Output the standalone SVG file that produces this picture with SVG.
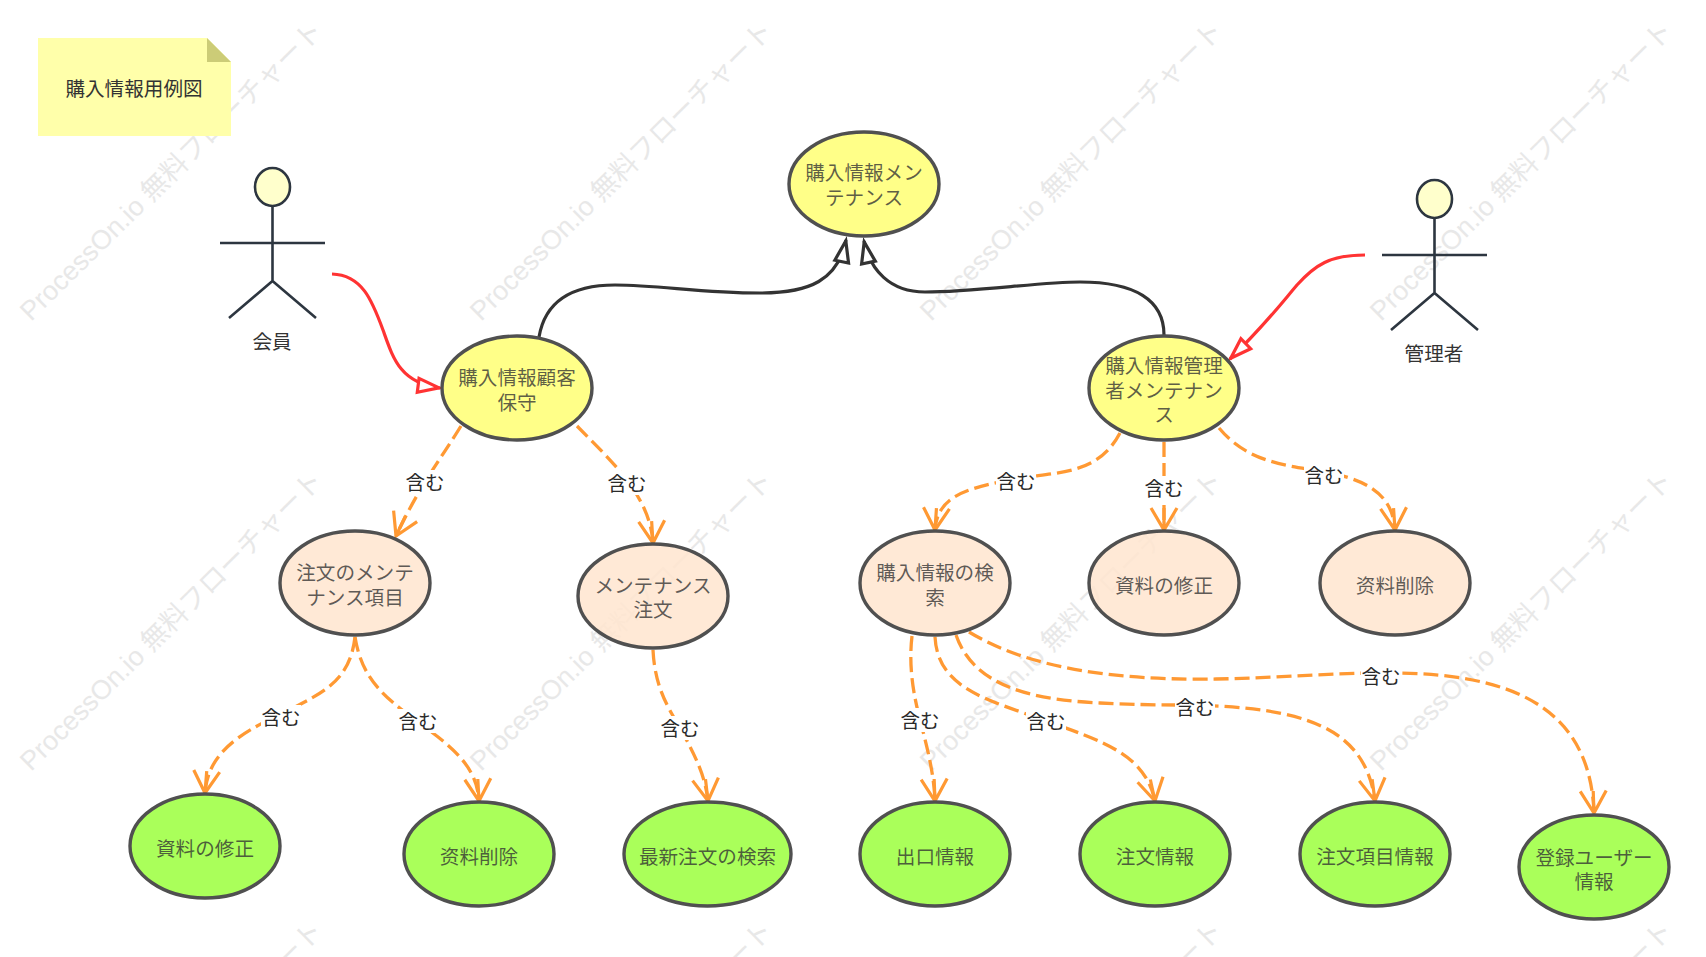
<svg xmlns="http://www.w3.org/2000/svg" width="1706" height="957" viewBox="0 0 1706 957">
<style>
text{font-family:"Noto Sans CJK JP","Liberation Sans",sans-serif;text-anchor:middle;dominant-baseline:central}
.wm{font-family:"Liberation Sans","Noto Sans CJK JP",sans-serif;font-size:27px;fill:#e8e8e8;text-anchor:start;dominant-baseline:auto}
.n{stroke:#505050;stroke-width:3.400}
.y{fill:#ffff88}.p{fill:#ffe5cf;fill-opacity:.85}.g{fill:#aaff5a}
.t{font-size:19.600px;fill:#333;fill-opacity:.78}
.a{font-size:19.600px;fill:#333}
.l{font-size:19.600px;fill:#2a2a2a}
.lb{fill:#fff}
.inc{fill:none;stroke:#ff9933;stroke-width:3.300;stroke-dasharray:15 6;marker-end:url(#open)}
.blk{fill:none;stroke:#333;stroke-width:3.200;marker-end:url(#triK)}
.red{fill:none;stroke:#ff3333;stroke-width:3.200;marker-end:url(#triR)}
.act{fill:none;stroke:#2d3640;stroke-width:2.600}
</style>
<defs>
<marker id="open" markerUnits="userSpaceOnUse" markerWidth="30" markerHeight="34" refX="25" refY="15" orient="auto" overflow="visible"><path d="M3,2 L25,15 L3,28 M25,15 L3,15" fill="none" stroke="#ff9933" stroke-width="3.200"/></marker>
<marker id="triK" markerUnits="userSpaceOnUse" markerWidth="30" markerHeight="24" refX="25" refY="10" orient="auto" overflow="visible"><path d="M3,3 L24,10 L3,17 Z" fill="#fff" stroke="#333" stroke-width="3.200"/></marker>
<marker id="triR" markerUnits="userSpaceOnUse" markerWidth="30" markerHeight="24" refX="25" refY="10" orient="auto" overflow="visible"><path d="M3,3 L24,10 L3,17 Z" fill="#fff" stroke="#ff3333" stroke-width="3.200"/></marker>
<text id="wm" class="wm" transform="rotate(-44.600)">ProcessOn.io 無料フローチャート</text>
</defs>
<g id="watermarks">
<use href="#wm" transform="translate(31,322)"/><use href="#wm" transform="translate(481,322)"/><use href="#wm" transform="translate(931,322)"/><use href="#wm" transform="translate(1381,322)"/>
<use href="#wm" transform="translate(31,772)"/><use href="#wm" transform="translate(481,772)"/><use href="#wm" transform="translate(931,772)"/><use href="#wm" transform="translate(1381,772)"/>
<use href="#wm" transform="translate(31,1222)"/><use href="#wm" transform="translate(481,1222)"/><use href="#wm" transform="translate(931,1222)"/><use href="#wm" transform="translate(1381,1222)"/>
</g>
<g id="note"><path d="M38,38 H207 L231,62 V136 H38 Z" fill="#ffffaa"/><path d="M207,38 L231,62 H207 Z" fill="#cccc77"/><text class="a" x="134" y="87">購入情報用例図</text></g>
<g id="actor-member"><ellipse cx="272.500" cy="187" rx="17.500" ry="19" fill="#ffffcc" stroke="#2d3640" stroke-width="2.600"/><path class="act" d="M272.500,206 V281 M220,243 H325 M229,318 L272.500,281 L316,318"/><text class="a" x="272" y="340">会員</text></g>
<g id="actor-admin"><ellipse cx="1434.500" cy="199" rx="17.500" ry="19" fill="#ffffcc" stroke="#2d3640" stroke-width="2.600"/><path class="act" d="M1434.500,218 V293 M1382,255 H1487 M1391,330 L1434.500,293 L1478,330"/><text class="a" x="1434" y="352">管理者</text></g>
<g id="connectors">
<path class="blk" d="M539,337 C545,302 570,285 615,285 C660,285 700,293 760,293 C810,293 838,280 846,240"/>
<path class="blk" d="M1164,335 C1164,300 1135,282 1080,282 C1040,282 975,292 925,292 C890,292 870,270 864,241"/>
<path class="red" d="M332,274 C362,275 372,300 383,330 C393,358 400,383 440,388"/>
<path class="red" d="M1365,255 C1330,255 1315,265 1297,285 C1280,305 1265,325 1230,359"/>
<path class="inc" d="M461,426 C440,460 420,485 396,536"/>
<path class="inc" d="M577,426 C610,460 650,495 653,543"/>
<path class="inc" d="M1120,433 C1095,480 1050,470 1000,482 C960,490 937,500 935,530"/>
<path class="inc" d="M1164,442 V530"/>
<path class="inc" d="M1219,428 C1250,465 1290,465 1330,473 C1375,482 1393,500 1395,530"/>
<path class="inc" d="M355,637 C350,680 325,692 285,712 C235,735 208,755 205,793"/>
<path class="inc" d="M355,637 C362,680 385,697 415,720 C450,745 477,765 479,801"/>
<path class="inc" d="M653,650 C655,690 670,710 680,728 C695,755 705,775 708,801"/>
<path class="inc" d="M912,636 C908,670 915,700 920,720 C928,750 934,775 935,801"/>
<path class="inc" d="M935,637 C938,690 990,700 1046,721 C1105,742 1145,755 1155,801"/>
<path class="inc" d="M956,635 C975,690 1040,700 1100,703 C1140,705 1170,705 1193,705 C1300,708 1365,725 1375,801"/>
<path class="inc" d="M969,632 C1040,675 1140,680 1216,679 C1280,678 1340,672 1400,673 C1500,675 1590,700 1594,813"/>
<g id="connector-labels">
<rect class="lb" x="405" y="470" width="40" height="24"/><text class="l" x="425" y="481">含む</text>
<rect class="lb" x="607" y="471" width="40" height="24"/><text class="l" x="627" y="482">含む</text>
<rect class="lb" x="996" y="469" width="40" height="24"/><text class="l" x="1016" y="480">含む</text>
<rect class="lb" x="1144" y="476" width="40" height="24"/><text class="l" x="1164" y="487">含む</text>
<rect class="lb" x="1304" y="463" width="40" height="24"/><text class="l" x="1324" y="474">含む</text>
<rect class="lb" x="261" y="705" width="40" height="24"/><text class="l" x="281" y="716">含む</text>
<rect class="lb" x="398" y="709" width="40" height="24"/><text class="l" x="418" y="720">含む</text>
<rect class="lb" x="660" y="716" width="40" height="24"/><text class="l" x="680" y="727">含む</text>
<rect class="lb" x="900" y="708" width="40" height="24"/><text class="l" x="920" y="719">含む</text>
<rect class="lb" x="1026" y="709" width="40" height="24"/><text class="l" x="1046" y="720">含む</text>
<rect class="lb" x="1175" y="695" width="40" height="24"/><text class="l" x="1195" y="706">含む</text>
<rect class="lb" x="1361" y="664" width="40" height="24"/><text class="l" x="1381" y="675">含む</text>
</g>
</g>
<g id="uc-root"><ellipse class="n y" cx="864" cy="184" rx="75" ry="52"/><text class="t" x="864" y="171">購入情報メン</text><text class="t" x="864" y="196">テナンス</text></g>
<g id="uc-customer"><ellipse class="n y" cx="517" cy="388" rx="75" ry="52"/><text class="t" x="517" y="376">購入情報顧客</text><text class="t" x="517" y="401">保守</text></g>
<g id="uc-admin"><ellipse class="n y" cx="1164" cy="388" rx="75" ry="52"/><text class="t" x="1164" y="364">購入情報管理</text><text class="t" x="1164" y="389">者メンテナン</text><text class="t" x="1164" y="413">ス</text></g>
<g id="uc-order-item"><ellipse class="n p" cx="355" cy="583" rx="75" ry="52"/><text class="t" x="355" y="571">注文のメンテ</text><text class="t" x="355" y="596">ナンス項目</text></g>
<g id="uc-order-maint"><ellipse class="n p" cx="653" cy="596" rx="75" ry="52"/><text class="t" x="653" y="584">メンテナンス</text><text class="t" x="653" y="608">注文</text></g>
<g id="uc-search"><ellipse class="n p" cx="935" cy="583" rx="75" ry="52"/><text class="t" x="935" y="571">購入情報の検</text><text class="t" x="935" y="596">索</text></g>
<g id="uc-edit"><ellipse class="n p" cx="1164" cy="583" rx="75" ry="52"/><text class="t" x="1164" y="584">資料の修正</text></g>
<g id="uc-delete"><ellipse class="n p" cx="1395" cy="583" rx="75" ry="52"/><text class="t" x="1395" y="584">资料削除</text></g>
<g id="uc-edit2"><ellipse class="n g" cx="205" cy="846" rx="75" ry="52"/><text class="t" x="205" y="847">資料の修正</text></g>
<g id="uc-delete2"><ellipse class="n g" cx="479" cy="854" rx="75" ry="52"/><text class="t" x="479" y="855">资料削除</text></g>
<g id="uc-latest"><ellipse class="n g" cx="707.500" cy="854" rx="83.500" ry="52"/><text class="t" x="707.500" y="855">最新注文の検索</text></g>
<g id="uc-ship"><ellipse class="n g" cx="935" cy="854" rx="75" ry="52"/><text class="t" x="935" y="855">出口情報</text></g>
<g id="uc-order"><ellipse class="n g" cx="1155" cy="854" rx="75" ry="52"/><text class="t" x="1155" y="855">注文情報</text></g>
<g id="uc-order-info"><ellipse class="n g" cx="1375" cy="854" rx="75" ry="52"/><text class="t" x="1375" y="855">注文項目情報</text></g>
<g id="uc-user"><ellipse class="n g" cx="1594" cy="867" rx="75" ry="52"/><text class="t" x="1594" y="856">登録ユーザー</text><text class="t" x="1594" y="880">情報</text></g>
</svg>
